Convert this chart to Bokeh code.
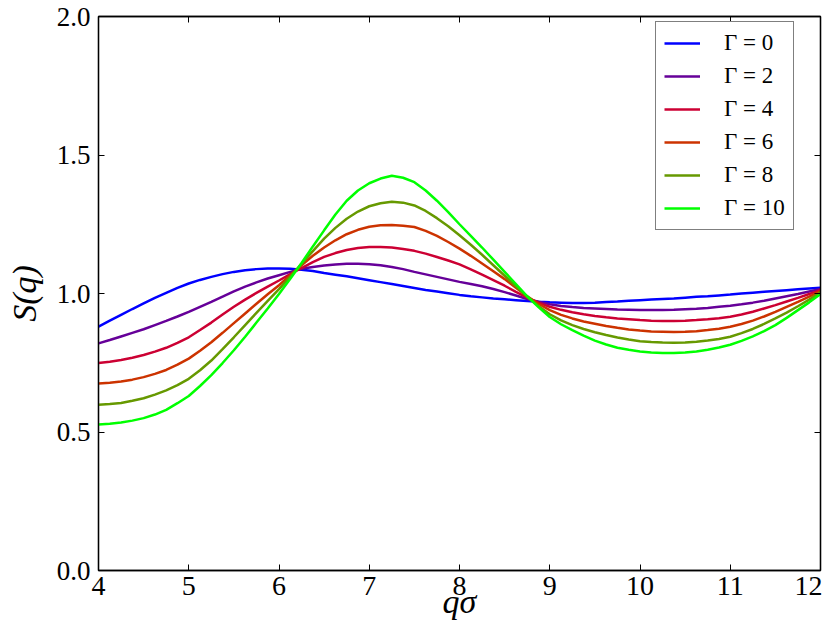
from bokeh.plotting import figure
from bokeh.models import Range1d, FixedTicker, PrintfTickFormatter, LinearAxis, CustomJSTickFormatter
from bokeh.embed import file_html
from bokeh.resources import INLINE

q_sigma = [4.000, 4.125, 4.250, 4.375, 4.500, 4.625, 4.750, 4.875,
           5.000, 5.125, 5.250, 5.375, 5.500, 5.625, 5.750, 5.875,
           6.000, 6.125, 6.250, 6.375, 6.500, 6.625, 6.750, 6.875,
           7.000, 7.125, 7.250, 7.375, 7.500, 7.625, 7.750, 7.875,
           8.000, 8.125, 8.250, 8.375, 8.500, 8.625, 8.750, 8.875,
           9.000, 9.125, 9.250, 9.375, 9.500, 9.625, 9.750, 9.875,
           10.000, 10.125, 10.250, 10.375, 10.500, 10.625, 10.750, 10.875,
           11.000, 11.125, 11.250, 11.375, 11.500, 11.625, 11.750, 11.875,
           12.000]

s_gamma0 = [0.880, 0.902, 0.923, 0.944, 0.964, 0.984, 1.002, 1.020,
            1.036, 1.049, 1.060, 1.070, 1.078, 1.084, 1.088, 1.090,
            1.090, 1.089, 1.086, 1.081, 1.074, 1.068, 1.062, 1.055,
            1.048, 1.041, 1.034, 1.027, 1.020, 1.013, 1.007, 1.001,
            0.995, 0.990, 0.986, 0.982, 0.979, 0.976, 0.973, 0.970,
            0.968, 0.967, 0.966, 0.966, 0.967, 0.969, 0.971, 0.974,
            0.976, 0.978, 0.980, 0.982, 0.985, 0.988, 0.990, 0.993,
            0.996, 1.000, 1.003, 1.006, 1.009, 1.012, 1.015, 1.018,
            1.021]
s_gamma2 = [0.820, 0.832, 0.845, 0.858, 0.871, 0.886, 0.901, 0.917,
            0.934, 0.952, 0.970, 0.989, 1.008, 1.025, 1.040, 1.054,
            1.066, 1.078, 1.089, 1.096, 1.101, 1.105, 1.107, 1.107,
            1.106, 1.102, 1.096, 1.088, 1.078, 1.069, 1.060, 1.051,
            1.042, 1.034, 1.026, 1.016, 1.005, 0.993, 0.980, 0.970,
            0.961, 0.955, 0.951, 0.948, 0.946, 0.944, 0.942, 0.941,
            0.940, 0.940, 0.940, 0.941, 0.943, 0.945, 0.948, 0.952,
            0.956, 0.961, 0.967, 0.974, 0.982, 0.990, 0.998, 1.007,
            1.016]
s_gamma4 = [0.749, 0.754, 0.760, 0.768, 0.778, 0.790, 0.804, 0.822,
            0.842, 0.868, 0.895, 0.924, 0.952, 0.978, 1.002, 1.025,
            1.047, 1.070, 1.092, 1.113, 1.132, 1.146, 1.157, 1.164,
            1.168, 1.168, 1.166, 1.161, 1.154, 1.144, 1.132, 1.119,
            1.105, 1.087, 1.068, 1.048, 1.028, 1.006, 0.985, 0.967,
            0.952, 0.941, 0.932, 0.925, 0.919, 0.914, 0.910, 0.907,
            0.904, 0.902, 0.901, 0.901, 0.902, 0.904, 0.907, 0.911,
            0.916, 0.924, 0.934, 0.946, 0.958, 0.971, 0.984, 0.998,
            1.012]
s_gamma6 = [0.675, 0.678, 0.682, 0.689, 0.698, 0.710, 0.724, 0.743,
            0.765, 0.793, 0.824, 0.858, 0.893, 0.928, 0.963, 0.997,
            1.030, 1.066, 1.102, 1.136, 1.166, 1.192, 1.214, 1.230,
            1.241, 1.246, 1.247, 1.245, 1.240, 1.226, 1.208, 1.186,
            1.162, 1.136, 1.108, 1.080, 1.052, 1.021, 0.990, 0.963,
            0.940, 0.923, 0.910, 0.899, 0.891, 0.883, 0.876, 0.870,
            0.866, 0.863, 0.862, 0.861, 0.862, 0.864, 0.868, 0.873,
            0.880, 0.890, 0.902, 0.917, 0.934, 0.952, 0.970, 0.989,
            1.009]
s_gamma8 = [0.598, 0.601, 0.605, 0.613, 0.622, 0.635, 0.650, 0.669,
            0.692, 0.723, 0.758, 0.799, 0.842, 0.886, 0.930, 0.973,
            1.016, 1.061, 1.107, 1.153, 1.198, 1.237, 1.270, 1.296,
            1.315, 1.326, 1.331, 1.328, 1.318, 1.298, 1.272, 1.243,
            1.210, 1.176, 1.140, 1.102, 1.064, 1.026, 0.988, 0.955,
            0.925, 0.903, 0.886, 0.872, 0.860, 0.850, 0.841, 0.834,
            0.828, 0.825, 0.823, 0.822, 0.823, 0.826, 0.830, 0.836,
            0.844, 0.857, 0.872, 0.890, 0.910, 0.931, 0.954, 0.978,
            1.004]
s_gamma10 = [0.527, 0.530, 0.534, 0.541, 0.550, 0.563, 0.580, 0.604,
             0.630, 0.666, 0.705, 0.749, 0.795, 0.844, 0.895, 0.946,
             0.998, 1.053, 1.110, 1.170, 1.228, 1.285, 1.335, 1.372,
             1.398, 1.415, 1.425, 1.418, 1.402, 1.372, 1.335, 1.294,
             1.250, 1.208, 1.166, 1.122, 1.078, 1.034, 0.990, 0.951,
             0.915, 0.889, 0.868, 0.848, 0.830, 0.816, 0.804, 0.797,
             0.791, 0.787, 0.785, 0.785, 0.787, 0.791, 0.797, 0.805,
             0.815, 0.829, 0.845, 0.864, 0.886, 0.912, 0.940, 0.968,
             0.998]

series = [s_gamma0, s_gamma2, s_gamma4, s_gamma6, s_gamma8, s_gamma10]
labels = ["Γ = 0", "Γ = 2", "Γ = 4", "Γ = 6", "Γ = 8", "Γ = 10"]
colors = ["#0000ff", "#660099", "#cc0033", "#cc3300", "#669900", "#00ff00"]

x_ticks = [4, 5, 6, 7, 8, 9, 10, 11, 12]
y_ticks = [0.0, 0.5, 1.0, 1.5, 2.0]

FONT = "Liberation Serif"

p = figure(width=822, height=632, output_backend="svg", toolbar_location=None,
           x_range=Range1d(4, 12), y_range=Range1d(0, 2),
           min_border_left=98, min_border_right=2, min_border_top=16, min_border_bottom=62)
p.xgrid.visible = False
p.ygrid.visible = False
p.outline_line_color = "black"
p.outline_line_width = 1.3
p.background_fill_color = "white"
p.border_fill_color = "white"

for ys, lab, col in zip(series, labels, colors):
    p.line(q_sigma, ys, line_color=col, line_width=2.5, legend_label=lab)


def style_axis(ax, ticks, show_labels, standoff=8, size="28px"):
    ax.ticker = FixedTicker(ticks=ticks)
    ax.major_tick_in = 6
    ax.major_tick_out = 0
    ax.minor_tick_line_color = None
    ax.axis_line_color = "black"
    ax.axis_line_width = 1.3
    ax.major_tick_line_color = "black"
    ax.major_tick_line_width = 1
    if show_labels:
        ax.major_label_text_font = FONT
        ax.major_label_text_font_size = size
        ax.major_label_text_color = "black"
        ax.major_label_standoff = standoff
    else:
        ax.formatter = CustomJSTickFormatter(code="return ''")
        ax.major_label_text_font_size = "1px"
        ax.major_label_standoff = 0


style_axis(p.xaxis[0], x_ticks, True, standoff=6, size="28px")
style_axis(p.yaxis[0], y_ticks, True, standoff=8, size="27px")
p.yaxis[0].formatter = PrintfTickFormatter(format="%.1f")

p.xaxis[0].axis_label = "qσ"
p.xaxis[0].axis_label_text_font = FONT
p.xaxis[0].axis_label_text_font_style = "italic"
p.xaxis[0].axis_label_text_font_size = "34px"
p.xaxis[0].axis_label_text_color = "black"
p.xaxis[0].axis_label_standoff = -15

p.yaxis[0].axis_label = "S(q)"
p.yaxis[0].axis_label_text_font = FONT
p.yaxis[0].axis_label_text_font_style = "italic"
p.yaxis[0].axis_label_text_font_size = "34px"
p.yaxis[0].axis_label_text_color = "black"
p.yaxis[0].axis_label_standoff = 11

top_axis = LinearAxis()
right_axis = LinearAxis()
style_axis(top_axis, x_ticks, False)
style_axis(right_axis, y_ticks, False)
p.add_layout(top_axis, "above")
p.add_layout(right_axis, "right")

lg = p.legend[0]
lg.location = (557, 340)
lg.padding = 8
lg.spacing = 7
lg.margin = 0
lg.glyph_width = 36
lg.glyph_height = 26
lg.label_height = 26
lg.label_standoff = 24
lg.label_text_font = FONT
lg.label_text_font_size = "23px"
lg.label_text_color = "black"
lg.border_line_color = "black"
lg.border_line_width = 1.3
lg.background_fill_alpha = 1.0

open("out.html", "w").write(file_html(p, INLINE))
